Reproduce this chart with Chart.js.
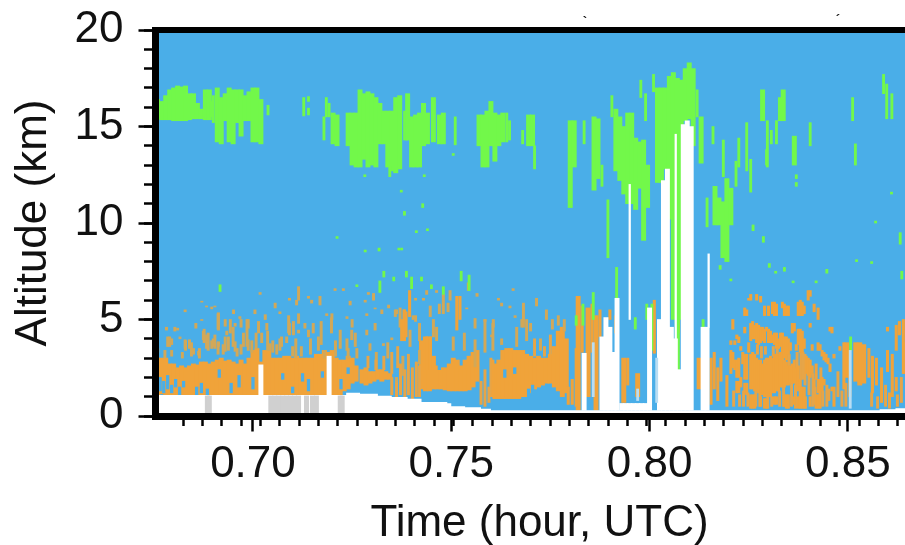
<!DOCTYPE html>
<html><head><meta charset="utf-8">
<script src="https://cdn.jsdelivr.net/npm/chart.js@4"></script>
<style>html,body{margin:0;padding:0;background:#fff;overflow:hidden;width:905px;height:545px}canvas{display:block;filter:blur(.45px)}</style>
</head><body><canvas id="c" width="924" height="548"></canvas>
<script>
const xTitle = "Time (hour, UTC)";
const yTitle = "Altitude (km)";
const xRange = [0.6753, 0.8692];
const yRange = [0, 20];
const stray = [["`", 0.7837, 20.5], ["´", 0.8475, 20.6]];

const ground = [[.675,1.09],[.7105,1.09],[.7225,1.09],[.7235,1.2],[.727,1.15],[.7315,1.05],[.735,.98],[.739,.9],[.7425,.72],[.7490,.66],[.7500,.5],[.7535,.45],[.7575,.38],[.7600,.3],[.8000,.3],[.8030,.3],[.8540,.3],[.8580,.35],[.8620,.4],[.8692,.45]];
const greyGap = [[.6885,0,1.04],[.6890,0,1.04],[.7045,0,1.04],[.7055,0,1.04],[.7065,0,1.04],[.7075,0,1.04],[.7085,0,1.04],[.7095,0,1.04],[.7105,0,1.04],[.7115,0,1.04],[.7135,0,1.04],[.7150,0,1.04],[.7160,0,1.04],[.7220,0,1.04],[.7225,0,1.04]];

const orangeWide = [
[.676,1.1,3.0],[.677,1.15,3.0],[.678,1.1,3.0],[.679,1.1,2.7],[.680,1.1,2.7],[.681,1.1,2.5],[.682,1.1,2.6],[.683,1.1,2.5],[.684,1.1,2.6],[.685,1.1,2.7],[.686,1.1,2.65],[.687,1.1,2.8],[.688,1.1,2.8],[.689,1.1,2.7],[.690,1.1,2.8],[.691,1.1,2.9],[.692,1.1,3],[.693,1.1,2.85],[.694,1.1,2.9],[.695,1.1,2.8],[.696,1.1,2.7],[.697,1.1,2.9],[.698,1.1,2.7],[.699,1.1,3.0],[.700,1.1,3.4],[.701,1.1,3.5],[.702,1.1,2.8],[.703,1.1,3.4],[.704,1.1,3.4],[.705,1.1,3.0],[.706,1.1,3.0],[.707,1.1,3.0],[.708,1.1,3.1],[.709,1.1,3.1],[.710,1.1,3.0],[.711,1.1,3.1],[.712,1.1,3],[.713,1.1,3.0],[.714,1.1,3.0],[.715,1.1,3.0],[.716,1.1,3.2],[.717,1.1,3.2],[.718,1.1,3.4],[.719,1.1,3.3],[.720,1.1,3.4],[.721,1.1,3.0],[.722,1.1,2.9],[.723,1.3,2.9],[.724,1.4,3.1],[.725,1.7,3.0],[.726,1.8,2.6],
[.7275,1.7,2.4],[.7285,1.6,2.5],[.7295,1.7,2.3],[.7305,1.8,2.3],[.7315,1.9,2.4],[.7325,1.8,2.4],[.7335,1.9,2.3],[.7345,1.9,2.2],
[.7425,1.4,3.9],[.7435,1.3,4.1],[.7445,1.3,4.1],[.7455,1.4,3.1],[.7465,1.4,2.6],[.7475,1.4,2.5],[.7485,1.35,2.5],[.7495,1.3,2.7],[.7505,1.3,3],[.7515,1.3,2.9],[.7525,1.3,2.6],[.7535,1.3,2.9],[.7545,1.35,3.1],[.7555,1.5,3.3],[.7565,1.8,3.4],
[.761,.9,2.7],[.762,.9,2.9],[.763,.9,3.4],[.764,.9,3.5],[.765,.9,3.5],[.766,.9,3.4],[.767,.9,3.4],[.768,1,3.4],[.769,1,3.2],[.770,1.2,3.1],[.771,1.4,3],[.772,1.5,3.1],[.773,1.6,3],[.774,1.7,3],[.775,1.7,3.2],[.776,1.5,3.6],[.777,1.3,4.4],[.778,1,4.6],[.779,1.2,4],
[.782,.3,6.2],[.7845,1,5.6],[.7865,.3,5.2],[.7935,.7,3],[.7970,1,2.2],[.8125,1.4,3],
[.8497,2.0,3.8],[.8520,1.8,3.8],[.8530,1.6,3.8],[.8540,1.7,3.7]
];
const orangeThin = [
[.7605,1.0,2.9],[.7795,.6,1.5],[.7805,.6,1.9],[.7815,.5,3.5],[.7830,3.3,5.7],[.7855,3.3,5.8],[.7875,4.1,5.5],[.7900,5,5.5],[.7915,4.3,5.2],[.7945,1.6,3],[.8012,3.25,6],[.8073,4.3,5.7],
[.8155,.6,3.0],[.8163,1.4,3.3],[.8172,.8,2.5],[.8180,1.8,3.0],[.8195,.5,2.1],
[.8205,3.7,3.9,2.2,3.4],[.8210,4.5,5,2.5,3.3],[.8215,3.7,3.9,2.4,2.9],[.8220,4,4.2,2.0,2.9,1.2,1.8],[.8225,3.8,4.1,2.0,3.0,1.2,1.8],[.8230,3.4,3.6,1.5,2],[.8235,2.7,3.3],[.8240,5.2,5.6,4.3,4.6,1.9,3.2,1.2,1.7],[.8245,5.2,5.5,1.9,3.2,1.1,1.7],[.8250,3.3,3.8,6.0,6.1],[.8255,6,6.3,3.9,4.8,1.4,3.2,.4,1.1],[.8260,4.0,4.9,1.4,3.3,.4,1.1],[.8265,4.0,4.7,1.3,3.2,.4,1.1],[.8270,6,6.3,3.8,4.8,1.3,3],[.8275,3.7,4.7,1.2,2.9],[.8280,5.9,6.2,3.8,4.6,1.1,2.9,.5,1],[.8285,3.9,4.6,1.1,2.7],[.8290,5.2,5.7,3.8,4.5,1.0,2.9,.4,.9],[.8295,4.4,4.6,1.0,3,.4,.9],[.8300,5.2,5.7,3.8,4.5,1,3],[.8305,3.8,4.4,1.0,3.1],[.8310,5.3,5.9,3.8,4.2,1.2,3],[.8315,5.2,5.9,3.7,4.3,1.2,3.2,.6,1],[.8320,5.2,5.8,3.5,4.3,1.3,3.2,.6,1],[.8325,3.5,4,1.3,3.2],[.8330,3.6,4.3,1.5,3.3],[.8335,5.6,5.9,3.0,4.3,1.5,3],[.8340,5.2,5.8,3,4.1,1.5,2.9,.5,1.1],[.8345,5.2,5.7,2.9,4.1,1.6,2.8,.4,1.1],[.8350,5.2,5.7,3.2,4,1.6,2.6,.4,1.1],[.8355,3.4,3.8,1.7,2.6],[.8360,4.3,4.8,1.7,2.7],[.8365,4.4,4.8,1.7,2.9,.6,1],[.8370,3.4,3.7,1.6,2.5],[.8375,5.2,5.9,3.7,4.5,1.3,2.6,.4,1],[.8380,5.2,6.0,3.3,4.5,1.5,1.9,.4,1.5],[.8385,5.2,5.9,3.3,4.4,.4,1.5],[.8390,5.3,5.7,3.5,4,.4,1.5],[.8395,2.2,3.1],[.8400,6,6.5,2.1,3],[.8405,6.2,6.5,4.6,4.8,2,2.9,.5,1],[.8410,2.2,2.6,3.4,3.7],[.8415,5.4,5.8,1.5,1.9],[.8420,1.9,2.7,.4,1.1],[.8425,5,5.6,3.4,3.8,1.2,1.9,.4,1.1],[.8430,3.4,3.7,1.1,1.9,.4,1.1],[.8435,3.1,3.4,1.3,2],[.8440,2.9,3.3,1.6,1.9],[.8445,2.8,3.2],[.8450,2.7,3],[.8455,2.3,2.7,4.4,4.6],[.8460,4.3,4.6,1.3,1.5],
[.8465,3.0,3.2,.5,1.5],[.8480,3.4,3.6],[.8490,1.4,3.8],[.8505,1.0,2],[.8553,2.0,3.5],[.8562,1.2,3.1],[.8572,1.6,3.0],[.8585,.7,2.5],[.8600,2.3,3.4,4.4,4.6],[.8612,1.0,3.2],[.8622,3.4,4.7,1.3,2.0],[.8630,4.2,4.9],[.8640,2.2,5.0],
[.7375,3.9,5],[.7382,3.9,5.5],[.7395,5.15,6.5],[.7438,2.4,4.1],[.7447,2.4,4.1],[.7514,4.45,6.2],[.7522,5,6.2],[.7381,4.1,5.5],[.7386,4.1,5.4]
];
const orangeExtra = [
[.8272,3.2,3.7],[.8282,3.0,3.6],[.8292,3.2,3.6],[.8312,3.1,3.6],[.8322,3.2,3.5],[.8352,2.6,3.2],[.8372,2.5,3.3],[.8382,1.9,3.3],[.8387,1.9,3.3],[.8392,1.6,3.2],[.8402,1.1,2.1],[.8412,.5,2.2],[.8417,.6,1.5],[.8432,1.9,2.5],
[.8268,.5,1.3],[.8278,.5,1.2],[.8298,.4,1],[.8308,.5,1.0],[.8328,.5,1.3],[.8338,.5,1.5],[.8358,.5,1.7],[.8368,.4,1.6],[.8393,.4,1],[.8437,.5,1.3],[.8447,.5,1.6],[.8452,.8,1.4],[.8212,.5,1.3],[.8227,.5,1.1],[.8237,.5,1.3],[.8248,.5,1.2],
[.7350,1.1,2.0],[.7362,1,1.7],[.7372,1.1,2.7],[.7383,1,2.4],[.7392,1.1,3.2],[.7402,.9,2.5],[.7412,1,2.8],[.7420,1,2.6],
[.7575,.6,1.8],[.7585,.5,2.4],[.7595,.7,1.5],[.7600,1.0,3.0],
[.7290,2.5,3.1],[.7310,2.4,2.9],[.7330,2.4,3.1],[.7350,2.2,3.3],[.7365,2.5,3.6],[.7710,3.1,4],[.7735,3.1,3.6],[.7750,3.2,4.2],
[.8560,.5,1.2],[.8575,.4,1.0],[.8595,.5,1.6],[.8605,.4,1.2],[.8625,.5,1.1],[.8635,.7,2.0],[.8642,2.2,3.8],[.8495,.5,1.7],[.8485,.5,1.3],[.8475,1,2.3]
];
const speckle = [
[.6782,4.45,4.6],[.6790,3.6,4.1],[.6810,4.45,4.55],[.6816,4,4.1],[.6829,5.4,5.5,3.5,3.95],[.6840,3.5,3.95],[.6850,3.2,3.5],[.6856,4.55,4.8],[.6863,3.15,3.35],[.6871,5.9,5.95,4.95,5],[.6875,3.95,4.4],[.6883,5.65,5.7,3.5,4.2],[.6896,5.55,5.65,3.5,3.9],[.6904,5.65,5.7,3.5,4.2],[.6913,4.45,5.35,3.6,3.85],[.6930,4.65,5,3.35,4.1],[.6934,4.2,4.4],[.6951,5.3,5.5],[.6955,4.65,4.8,3.35,3.85],[.6967,5.05,5.15],[.6976,3.6,4.3],[.6988,4.55,5,3.4,3.95],[.7005,5.3,5.5],[.7014,4.3,4.9],[.7018,6.3,6.4],[.7031,5,5.25],[.7035,4.45,4.8],[.7043,3.4,3.75],[.7056,5.6,5.85],[.7068,5.3,5.4,3.4,4],
[.7085,3.8,4.1],[.7092,6,6.1,4.2,4.8],[.7102,4.2,4.9],[.7115,6,6.7,4.8,5.3,4.3,4.45],[.7110,5.75,6],[.7131,4.55,4.8],[.7140,6.1,6.2,4.1,4.45],[.7148,5.85,6],[.7152,4.3,4.8],[.7165,3.4,4.1],[.7169,5.75,6.2],[.7186,5.2,5.3],[.7199,5,5.3],[.7207,6.5,6.6],[.7220,3.5,4.45],[.7228,6.5,6.6],[.7237,5.05,5.15,3.4,4],[.7245,5.75,5.95],[.7249,3.95,4.45],[.7258,3.6,4.3],[.7283,5.9,6],[.7287,5.2,5.3,4.2,4.45],[.7291,6.3,6.4],[.7295,3.4,3.75],[.7304,6,6.35],[.7308,5.55,5.6,4.45,4.8],[.7325,5.3,5.5],[.7329,3.65,3.75],[.7342,5.6,5.75],[.7350,3.95,4.05],[.7359,5.15,5.5],[.7371,4.6,5.6],[.7396,3.6,4.45],[.7404,5,5.2],
[.7362,5.3,5.5,1.7,2.0],[.7410,4.9,5.2,6,6.1],[.7430,6,6.1],[.7438,6.3,6.5],[.7447,5.15,5.7],[.7455,4.1,5],[.7463,6.4,6.5,3.9,4.6],[.7470,5.3,5.8],[.7480,5.3,6.3],[.7492,5.4,5.85],[.7497,6,6.5],[.7505,3.4,4.1],[.7533,3.4,4.3],[.7539,5.55,5.6],[.7543,6.5,6.9],[.7560,4.55,5.05,2.55,3.95],[.7565,6.2,6.35],[.7585,4.9,5],[.7606,4.6,5],[.7619,6,6.1],[.7627,5.7,5.85,3.7,4],[.7602,4.1,4.2],[.7648,5.6,5.7],[.7656,6.5,6.6],[.7682,4.6,5.85],[.7678,4.6,5],[.7661,5.1,5.2],[.7700,4.4,4.8],[.7715,5.7,6.1],[.7725,3.4,4.0],[.7740,5.0,5.5],[.7755,4.5,5.0],[.7770,4.7,5.2],[.7785,4.4,5.0],
[.6760,3.3,3.5],[.6778,3.0,3.4],[.6785,3.6,4.1],[.6795,3.7,4.0,3.1,3.4],[.6803,4.4,4.6],[.6822,3.0,3.3],[.6830,3.4,3.9],[.6845,3.1,3.8],[.6865,3.0,3.5],[.6877,3.8,4.5],[.6887,3.4,4.3],[.6900,3.6,4.0],[.6912,4.5,5.3,3.2,3.8],[.6925,3.2,3.7],[.6938,3.4,4.1],[.6943,4.3,5.0],[.6950,3.6,4.6],[.6960,3.1,3.5],[.6970,4.6,5.0,3.2,3.7],[.6985,3.6,5.0],[.6997,3.3,3.9],[.7008,3.5,4.3],[.7022,3.8,4.3],[.7037,3.4,4.4],[.7050,3.3,3.9],[.7060,3.2,3.7],[.7072,3.6,4.1],[.7090,4.3,5.2],[.7100,3.1,3.6],[.7108,3.0,4.0],[.7122,3.1,3.6],[.7145,3.2,4.0],[.7172,3.7,4.9],[.7180,3.0,3.4],[.7198,4.3,5.1],[.7208,3.1,3.9],[.7240,3.0,3.5],[.7250,4.6,5.0],[.7262,3.0,3.5],[.7311,2.4,3.3],[.7340,3.0,3.8],[.7378,2.1,3.1],[.7420,3.9,4.8,2.7,3.4],[.7585,3.3,5.0],[.7605,3.4,4.8],[.7665,3.6,4.6],[.7690,3.9,5.0]
];
const clearHoles = [[.6766,1.3,2.0],[.6775,1.2,1.8],[.6785,1.4,2.1],[.6795,1.2,1.6],[.6805,1.5,1.9],[.6815,1.1,1.5],[.6825,1.5,1.8],[.6858,1.1,1.5],[.6870,1.2,1.7],[.6885,1.1,1.4],[.6915,2.0,2.4],[.6945,1.2,1.7],[.6965,1.5,2.1],[.7000,1.4,2.0],[.7075,1.9,2.2],[.7100,1.2,1.5],[.7125,1.8,2.2],[.7140,1.3,1.9],[.7175,2.0,2.3],[.7222,1.4,1.9],[.7240,2.2,2.5],[.7470,2.4,2.8],[.7635,2.0,2.4],[.7660,2.2,2.5],[.7695,1.0,1.4],[.7705,1.1,1.6]];

const greenWide = [
[.677,15.35,16.3],[.678,15.35,16.6],[.679,15.35,16.9],[.680,15.3,17],[.681,15.3,17.1],[.682,15.3,17.05],[.683,15.3,17.1],[.684,15.35,16.7],[.685,15.4,16.7],[.686,15.4,16.2],[.687,15.4,15.9],[.688,15.35,16.9],[.689,15.35,16.9],
[.691,14.2,17],[.692,14.1,16.5],[.693,15.3,16.7],[.694,14.2,17],[.695,14.1,16.9],[.696,15.2,16.9],[.697,14.5,16.9],[.698,15.3,16.6],[.699,15.3,16.8],[.700,14.2,17],[.701,14.2,17],[.702,14.1,16.4],
[.7202,14.1,15.7],[.7212,14,15.6],[.724,14,15.7],[.725,13,15.7],[.726,12.9,15.7],[.727,12.9,16.9],[.728,13.3,16.7],[.729,12.9,16.8],[.730,13,16.7],[.731,12.9,16.5],[.732,14.1,16.2],[.733,14.1,15.8],[.734,12.9,15.8],[.735,12.7,15.8],[.736,12.6,16.5],[.737,12.8,16.6],[.7385,14.3,15.8],[.739,14.3,16.7],[.740,12.9,15.5],[.741,12.9,15.6],[.742,12.9,15.7],[.743,14,16.2],[.744,14.1,15.7],[.7455,14.2,16.5],[.747,14.1,15.6],[.748,14.1,15.7],
[.757,14,15.6],[.758,12.9,15.6],[.759,12.9,15.8],[.760,14,16.3],[.761,13.2,15.7],[.762,14,15.6],[.763,14.2,15.7],
[.7695,14,15.6],[.7705,14,15.6],[.780,10.8,15.3],[.781,12.9,15.3],[.786,11.7,15.5],[.787,12.3,15.4],
[.7915,12.7,15.9],[.7925,12.2,15.5],[.7935,11.5,15],[.7945,11,15.7],[.7955,11,15.7],[.7965,10.7,14.4],[.7975,11.8,14.2],[.7985,9.1,14.3],[.7995,10.8,13],
[.802,12.1,17],[.803,12.1,17],[.804,12.8,17],[.805,10.2,17.6],[.806,5,17.8],[.807,2.4,17.5],[.808,5,17.4],[.809,15.3,18],[.810,15.4,18.3],[.811,14,18],[.813,13.1,15.5],
[.8165,9.9,11.9],[.8175,9.9,11.3],[.8185,8.2,11.1],[.8195,8,12.3],[.8205,9.9,11.8],
[.8285,15.3,16.9],[.8330,15.3,16.5],[.8337,15.3,16.9],[.8365,13,14.5]
];
const greenThin = [
[.6762,15.4,16.4],[.6900,15.2,16.6],[.6895,15.5,16.3],[.7038,15.6,16.1],[.7128,15.55,16.5],[.7140,16.3,16.55],[.7140,15.6,15.95],[.7179,14.3,15.5],[.7185,15.5,16.5],[.7192,15.5,16.2],[.7345,12.4,12.9],[.7510,14.05,15.5],[.7640,14.2,15.7],[.7647,14.3,15.3],[.7680,14.1,14.8],[.7710,12.8,14],[.7835,14.1,15.3],[.788,11.9,13],[.7895,8.2,11.2],[.7905,15.5,16.6],[.7978,16.5,17.4],[.7990,15.3,16.7],[.8010,16.8,17.7],[.812,15.5,16.9],[.8160,14.1,15],[.8145,9.8,11.3],[.8186,12.4,14.3],[.8218,11.9,13.2],[.8225,12.9,14.4],[.8245,12.7,15.2],[.8255,11.6,13.3],[.8297,12.9,15.3],[.8295,13,13.8],[.8307,14.1,14.8],[.8320,14.1,15.3],[.8405,14,15.2],[.8512,15.3,16.5],[.8519,13,14.1],[.8590,16.7,17.7],[.8598,15.4,17.2],[.8611,15.4,16.7],
[.7917,6.1,7.7],[.7858,5,6.4],[.7832,4.7,5.8],[.7815,4.7,5.2],[.7964,4.5,5.1],[.7993,5,5.8],[.8006,3.4,5.8],[.8135,4.6,5],[.8507,3.4,4.1],
[.6917,6.45,6.8],[.7262,6.7,6.8],[.7320,6.4,7.0],[.7330,7.2,7.5],[.7355,7,7.2],[.7387,7.2,7.5],[.7400,6.6,7.2],[.7425,7.0,7.2],[.7450,6.6,6.8],[.7480,6.3,6.7],[.7525,7,7.5],[.7545,6.5,7.3],
[.7283,8.5,8.6],[.7318,8.55,8.7],[.7368,8.6,8.7],[.7375,8.6,8.7],[.7412,9.5,9.6],[.7440,9.6,9.7],[.7428,10.8,11.0],[.7382,10.4,10.6],[.7374,11.6,11.7],[.7505,13.5,13.6],[.7282,12.4,12.5],[.7432,12.4,12.5],[.7212,9.2,9.3],
[.8261,9.6,9.9],[.8287,9.0,9.3],[.8302,7.7,7.9],[.8318,7.4,7.5],[.8340,7.5,7.7],[.8362,6.9,7.0],[.8420,6.9,7.0],[.8447,7.4,7.6],[.8522,8.0,8.1],[.8560,7.9,8.0],[.8632,8.9,9.5],[.8636,7.1,7.5],[.8205,7,7.1],[.8178,7.6,7.8],[.8370,12.3,12.5],[.8370,11.9,12.1],[.8610,11.5,11.6],[.8570,10,10.1]
];
const whiteCols = [
[.7020,1.1,2.65],[.7192,1.1,3.1],[.7835,.3,3.25],[.7880,.3,4.1],[.7890,.3,5.1],[.7900,.3,4.6],[.7910,.3,3.3],[.7918,.3,6.1],
[.7930,.3,.65],[.7940,.3,.65],[.7950,.3,.65],[.7960,.3,.65],[.7970,.3,.65],[.7980,.3,.65],[.7990,.3,.65],[.8000,.3,5.6],[.8025,.3,5],[.8035,.3,12.2],[.8045,.3,12.8],[.8055,.3,4.6],[.8065,.3,4],[.8075,.3,2.4],[.8085,.3,15.1],[.8095,.3,15.3],[.8105,.3,15],[.8135,.3,4.6],[.8145,.3,4.6]
];
const whiteThin = [[.7950,5,12],[.8066,4,14.6],[.8149,4.6,8.4]];
const paleCols = [[.8018,.7,3],[.8506,.4,3.4],[.7858,1,3.8],[.7970,.8,1.4]];

function bars(rows){const out=[];rows.forEach(r=>{for(let i=1;i<r.length;i+=2)out.push({x:r[0],y:[r[i],r[i+1]]});});return out;}
const BLUE="#4AAEE8",GREEN="#72F84A",ORANGE="#F0A33A";
function ds(rows,color,w,order){return{type:"bar",data:bars(rows),backgroundColor:color,barThickness:w,order:order,grouped:false,borderWidth:0};}

const areaFill={id:"areaFill",beforeDatasetsDraw(c){const a=c.chartArea,g=c.ctx;g.save();g.fillStyle=BLUE;g.fillRect(a.left,a.top,a.width,a.height);g.restore();},
 afterDraw(c){const g=c.ctx;g.save();g.fillStyle="#111";g.font="bold 13px 'Liberation Sans'";g.textAlign="center";g.textBaseline="middle";stray.forEach(s=>g.fillText(s[0],c.scales.x.getPixelForValue(s[1]),c.scales.y.getPixelForValue(s[2])+2));g.restore();}};
const FONT="'Liberation Sans', Arial, sans-serif";
function noPad(s){s.paddingTop=0;s.paddingBottom=0;s.paddingLeft=0;s.paddingRight=0;}
new Chart(document.getElementById("c"),{
 type:"bar",
 data:{datasets:[
  ds(orangeWide,ORANGE,4.3,13),
  ds(speckle,"#D2A858",2.3,12),
  ds(orangeExtra,"#E6A548",2.3,11),
  ds(orangeThin,ORANGE,2.4,10),
  ds(clearHoles,BLUE,2.6,9),
  ds(greenWide,GREEN,4.3,8),
  ds(greenThin,GREEN,2.2,7),
  {type:"line",data:ground.map(p=>({x:p[0],y:p[1]})),stepped:true,fill:"origin",backgroundColor:"#fff",borderWidth:0,pointRadius:0,order:5},
  ds(greyGap,"#D0D0D0",4.3,4),
  ds(whiteCols,"#fff",4.3,3),
  ds(whiteThin,"#fff",1.6,2),
  ds(paleCols,"#B8DDF3",2.2,1)
 ]},
 plugins:[areaFill],
 options:{
  responsive:false,animation:false,events:[],
  layout:{padding:{top:30,right:0,left:0,bottom:0}},
  plugins:{legend:{display:false},tooltip:{enabled:false}},
  scales:{
   x:{type:"linear",position:"bottom",min:xRange[0],max:xRange[1],offset:false,
    grid:{offset:false,drawOnChartArea:false,drawTicks:true,tickLength:15.5,tickWidth:2.5,tickColor:"#000",z:1},
    border:{display:true,color:"#000",width:7,z:1},
    ticks:{stepSize:.05,includeBounds:false,autoSkip:false,maxRotation:0,padding:7,color:"#111",font:{family:FONT,size:44},callback:v=>v.toFixed(2)},
    title:{display:true,text:xTitle,color:"#111",font:{family:FONT,size:44,lineHeight:1},padding:{top:0,bottom:2}},
    afterFit(s){s.height=132;noPad(s);}},
   y:{type:"linear",position:"left",min:yRange[0],max:yRange[1],
    grid:{drawOnChartArea:false,drawTicks:true,tickLength:16.5,tickWidth:2.5,tickColor:"#000",z:1},
    border:{display:true,color:"#000",width:7,z:1},
    ticks:{stepSize:5,autoSkip:false,padding:15,color:"#111",font:{family:FONT,size:44}},
    title:{display:true,text:yTitle,color:"#111",font:{family:FONT,size:44,lineHeight:1},padding:{top:12,bottom:0}},
    afterFit(s){s.width=155;noPad(s);}},
   xMinor:{type:"linear",position:"bottom",weight:-1,min:xRange[0],max:xRange[1],
    grid:{offset:false,drawOnChartArea:false,tickLength:10,tickWidth:2.5,tickColor:"#000"},border:{display:false},
    ticks:{stepSize:.005,includeBounds:false,autoSkip:false,display:false},afterFit(s){s.height=0;noPad(s);}},
   yMinor:{type:"linear",position:"left",weight:-1,min:0,max:20,
    grid:{drawOnChartArea:false,tickLength:11,tickWidth:2.5,tickColor:"#000"},border:{display:false},
    ticks:{stepSize:1,autoSkip:false,display:false},afterFit(s){s.width=0;noPad(s);}},
   xTop:{type:"linear",position:"top",min:xRange[0],max:xRange[1],
    grid:{offset:false,drawOnChartArea:false,drawTicks:false,z:1},border:{display:true,color:"#000",width:6,z:1},
    ticks:{display:false},afterFit(s){s.height=0;noPad(s);}}
  }
 }
});
</script></body></html>
